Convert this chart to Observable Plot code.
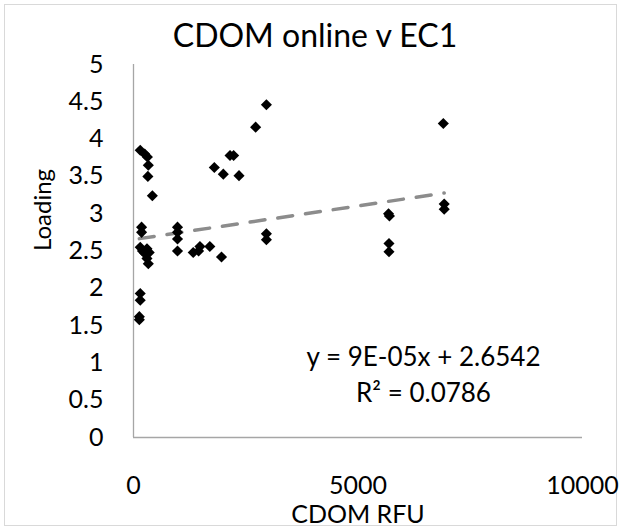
<!DOCTYPE html>
<html>
<head>
<meta charset="utf-8">
<script src="https://cdn.jsdelivr.net/npm/d3@7"></script>
<script src="https://cdn.jsdelivr.net/npm/@observablehq/plot@0.6"></script>
<style>
  html, body { margin: 0; padding: 0; background: #fff; }
  #wrap { position: relative; width: 623px; height: 532px; overflow: hidden; font-family: Lato, "Open Sans", sans-serif; }
  #frame { position: absolute; left: 4px; top: 4px; width: 613px; height: 522px; border: 1px solid #d9d9d9; box-sizing: border-box; }
  #title { position: absolute; left: 0; top: 15px; width: 630px; text-align: center; font-size: 32px; line-height: 40px; color: #000; }
  #chart { position: absolute; left: 0; top: 0; }
</style>
</head>
<body>
<div id="wrap">
  <div id="frame"></div>
  <div id="chart"></div>
  <div id="title">CDOM online v EC1</div>
</div>
<script>
// Data (CDOM RFU vs Loading)
const cdomRFU = [150, 250, 310, 330, 320, 420,
  180, 180, 150, 200, 300, 250, 350, 300, 330,
  150, 150, 130, 130,
  980, 980, 980, 980,
  1330, 1450, 1480, 1700, 1960,
  1800, 2000, 2150, 2230, 2350, 2720, 2960,
  2960, 2960,
  5680, 5700, 5690, 5690,
  6900, 6920, 6920];
const loading = [3.85, 3.80, 3.76, 3.65, 3.50, 3.24,
  2.82, 2.75, 2.55, 2.50, 2.53, 2.47, 2.48, 2.40, 2.33,
  1.93, 1.84, 1.62, 1.58,
  2.82, 2.75, 2.66, 2.50,
  2.48, 2.50, 2.56, 2.56, 2.42,
  3.62, 3.53, 3.78, 3.78, 3.51, 4.16, 4.46,
  2.73, 2.65,
  3.00, 2.97, 2.60, 2.49,
  4.21, 3.13, 3.06];

const xTicks = [0, 5000, 10000];
const yTicks = [0, 0.5, 1, 1.5, 2, 2.5, 3, 3.5, 4, 4.5, 5];
const trendSlope = 9e-5;
const trendIntercept = 2.6542;
const equationLines = ["y = 9E-05x + 2.6542", "R² = 0.0786"];

const points = cdomRFU.map((x, i) => ({x, y: loading[i]}));
const xExtent = d3.extent(cdomRFU);
const trend = xExtent.map(x => ({x, y: trendSlope * x + trendIntercept}));

const font = "Lato, 'Open Sans', sans-serif";
const chart = Plot.plot({
  width: 623,
  height: 532,
  marginLeft: 133,
  marginRight: 41,
  marginTop: 64,
  marginBottom: 95,
  style: {fontFamily: font, fontSize: "25px", color: "#000", background: "transparent"},
  x: {domain: [0, 10000]},
  y: {domain: [0, 5]},
  marks: [
    Plot.ruleX([0], {stroke: "#a6a6a6", strokeWidth: 1.3}),
    Plot.ruleY([0], {stroke: "#a6a6a6", strokeWidth: 1.3}),
    Plot.axisX({ticks: xTicks, tickSize: 0, tickPadding: 39, tickFormat: d => String(d), label: null, fontSize: 25}),
    Plot.axisY({ticks: yTicks, tickSize: 0, tickPadding: 30, tickFormat: d => String(d), label: null, fontSize: 25}),
    Plot.text(["CDOM RFU"], {frameAnchor: "bottom", lineAnchor: "middle", dy: 77, fontSize: 25, fill: "#000"}),
    Plot.text(["Loading"], {frameAnchor: "left", dx: -90, rotate: -90, fontSize: 24, fill: "#000"}),
    Plot.line(trend, {x: "x", y: "y", stroke: "#8c8c8c", strokeWidth: 3.5, strokeDasharray: "15,13", strokeLinecap: "round"}),
    Plot.dot(points, {x: "x", y: "y", symbol: "diamond2", r: 5, fill: "#000", stroke: "none"}),
    Plot.text([equationLines[0]], {frameAnchor: "top-left", dx: 290, dy: 347 - 64, fontSize: 26, fill: "#000", textAnchor: "middle"}),
    Plot.text([equationLines[1]], {frameAnchor: "top-left", dx: 290, dy: 383 - 64, fontSize: 26, fill: "#000", textAnchor: "middle"})
  ]
});
document.getElementById("chart").appendChild(chart);
</script>
</body>
</html>
